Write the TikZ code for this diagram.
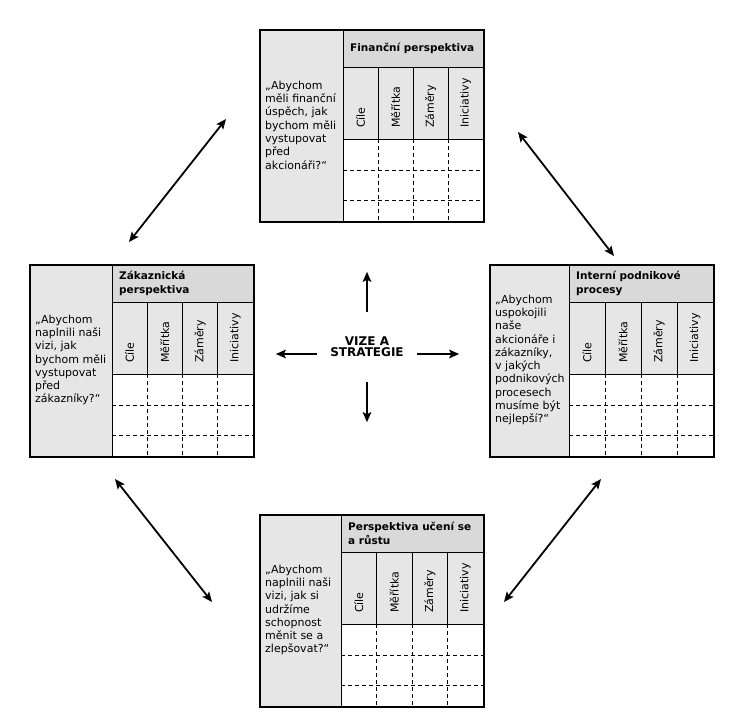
\documentclass[tikz,border=0pt]{standalone}
\usepackage{fontspec}
\setmainfont{DejaVu Sans}
\usepackage{tikz}
\usetikzlibrary{arrows.meta}
\definecolor{panelgray}{HTML}{E6E6E6}
\definecolor{headgray}{HTML}{D9D9D9}

\begin{document}
\begin{tikzpicture}
	[x=1pt,y=-1pt,>={Stealth[length=10pt,width=8.5pt,inset=2pt]},
		panel/.style={fill=panelgray},
		headfill/.style={fill=headgray},
		frame/.style={draw,line width=2pt,minimum width=224pt,minimum height=192pt,inner sep=0pt,anchor=north west},
		grid line/.style={line width=0.8pt},
		cell/.style={line width=0.8pt,dash pattern=on 4pt off 3pt},
		question/.style={anchor=west,align=left,inner sep=0pt,font=\fontsize{11}{13.3}\selectfont},
		title/.style={anchor=west,align=left,inner sep=0pt,font=\fontsize{10.5}{14}\selectfont\bfseries},
		column/.style={anchor=west,rotate=90,inner sep=0pt,font=\fontsize{11}{13}\selectfont},
		link/.style={<->,line width=1.8pt},
		ray/.style={->,line width=1.8pt}]

	\useasboundingbox (0,0) rectangle (736,724);

	% the four perspectives
	\foreach \nm/\bx/\by/\pw/\ttl/\quest in {
		fin/259/29/84/{Finanční perspektiva}/{„Abychom\\měli finanční\\úspěch, jak\\bychom měli\\vystupovat\\před\\akcionáři?“},
		zak/29/264/83/{Zákaznická\\perspektiva}/{„Abychom\\naplnili naši\\vizi, jak\\bychom měli\\vystupovat\\před\\zákazníky?“},
		int/489/264/80/{Interní podnikové\\procesy}/{„Abychom\\uspokojili\\naše\\akcionáře i\\zákazníky,\\v jakých\\podnikových\\procesech\\musíme být\\nejlepší?“},
		rust/259/514/82/{Perspektiva učení se\\a růstu}/{„Abychom\\naplnili naši\\vizi, jak si\\udržíme\\schopnost\\měnit se a\\zlepšovat?“}}
	{
		\pgfmathsetmacro{\cw}{(224-\pw)/4}
		\fill[panel] (\bx,\by) rectangle ++(\pw,192);
		\fill[headfill] (\bx+\pw,\by) rectangle (\bx+224,\by+38);
		\fill[panel] (\bx+\pw,\by+38) rectangle (\bx+224,\by+110);
		\draw[grid line] (\bx+\pw,\by) -- (\bx+\pw,\by+192)
			(\bx+\pw,\by+38) -- (\bx+224,\by+38)
			(\bx+\pw,\by+110) -- (\bx+224,\by+110);
		\draw[cell] (\bx+\pw,\by+141) -- (\bx+224,\by+141)
			(\bx+\pw,\by+171) -- (\bx+224,\by+171);
		\foreach \i in {1,2,3}
		{
			\draw[grid line] (\bx+\pw+\i*\cw,\by+38) -- ++(0,72);
			\draw[cell] (\bx+\pw+\i*\cw,\by+110) -- ++(0,82);
		}
		\foreach \lab [count=\i] in {Cíle,Měřítka,Záměry,Iniciativy}
			\node[column] at (\bx+\pw+\i*\cw-0.5*\cw,\by+99) {\lab};
		\node[question] at (\bx+6,\by+96) {\quest};
		\node[title] at (\bx+\pw+7,\by+19) {\ttl};
		\node[frame] (\nm) at (\bx,\by) {};
	}

	% vision in the middle
	\node[font=\fontsize{12}{11}\selectfont\bfseries,align=center,minimum width=100pt,minimum height=70pt,inner sep=0pt] (vize) at (367,347) {VIZE A\\STRATEGIE};
	\draw[ray] (vize.north) -- ++(0,-40);
	\draw[ray] (vize.south) -- ++(0,40);
	\draw[ray] ([yshift=-7pt]vize.west) -- ++(-41,0);
	\draw[ray] ([yshift=-7pt]vize.east) -- ++(42,0);

	% links between perspectives
	\coordinate (zf) at (129,242);
	\coordinate (fz) at (226,119);
	\coordinate (fi) at (518,132);
	\coordinate (if) at (614,256);
	\coordinate (zr) at (115,479);
	\coordinate (rz) at (212,602);
	\coordinate (ir) at (601,479);
	\coordinate (ri) at (504,602);
	\draw[link] (zf) -- (fz);
	\draw[link] (fi) -- (if);
	\draw[link] (zr) -- (rz);
	\draw[link] (ir) -- (ri);

\end{tikzpicture}
\end{document}
